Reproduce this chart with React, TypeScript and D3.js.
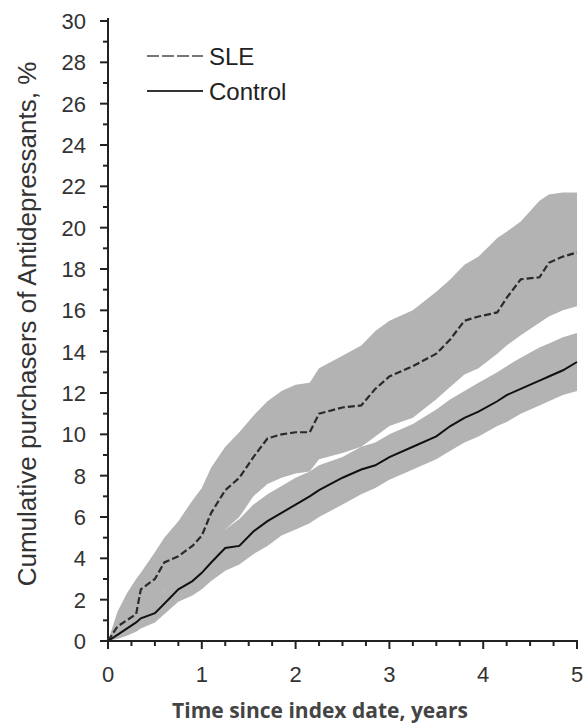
import React, { useEffect, useRef } from 'react';
import * as d3 from 'd3';

// time since index date (years)
const years = [0, 0.1, 0.2, 0.3, 0.35, 0.5, 0.6, 0.75, 0.9, 1.0, 1.1, 1.25, 1.4, 1.55, 1.7, 1.85, 2.0, 2.15, 2.25, 2.5, 2.7, 2.85, 3.0, 3.25, 3.5, 3.65, 3.8, 3.95, 4.15, 4.25, 4.4, 4.6, 4.7, 4.85, 5.0];

const sle = [0, 0.7, 1.0, 1.3, 2.5, 3.0, 3.8, 4.1, 4.6, 5.1, 6.2, 7.3, 7.9, 8.9, 9.8, 10.0, 10.1, 10.1, 11.0, 11.3, 11.4, 12.2, 12.8, 13.3, 13.9, 14.6, 15.5, 15.7, 15.9, 16.6, 17.5, 17.6, 18.3, 18.6, 18.8];
const sleUpper = [0, 1.4, 2.3, 3.0, 3.3, 4.3, 5.0, 5.8, 6.8, 7.4, 8.4, 9.4, 10.1, 10.9, 11.6, 12.1, 12.4, 12.5, 13.2, 13.8, 14.3, 15.0, 15.5, 16.0, 16.9, 17.5, 18.2, 18.6, 19.5, 19.8, 20.3, 21.3, 21.6, 21.7, 21.7];
const sleLower = [0, 0.2, 0.4, 0.6, 1.4, 1.9, 2.5, 2.8, 3.3, 3.7, 4.5, 5.4, 6.0, 7.0, 7.6, 7.9, 8.1, 8.2, 8.8, 9.1, 9.4, 9.9, 10.4, 10.8, 11.7, 12.3, 12.9, 13.2, 13.9, 14.3, 14.8, 15.4, 15.7, 16.0, 16.2];

const control = [0, 0.3, 0.6, 0.9, 1.1, 1.35, 1.8, 2.5, 2.9, 3.3, 3.8, 4.5, 4.6, 5.3, 5.8, 6.2, 6.6, 7.0, 7.3, 7.9, 8.3, 8.5, 8.9, 9.4, 9.9, 10.4, 10.8, 11.1, 11.6, 11.9, 12.2, 12.6, 12.8, 13.1, 13.5];
const controlUpper = [0, 0.6, 1.0, 1.4, 1.6, 2.0, 2.5, 3.3, 3.8, 4.3, 4.8, 5.4, 5.9, 6.6, 7.1, 7.5, 7.9, 8.2, 8.5, 8.9, 9.4, 9.6, 10.0, 10.5, 11.2, 11.7, 12.1, 12.5, 13.0, 13.3, 13.7, 14.2, 14.4, 14.7, 14.9];
const controlLower = [0, 0.1, 0.25, 0.45, 0.6, 0.9, 1.3, 1.9, 2.2, 2.5, 2.9, 3.4, 3.7, 4.2, 4.6, 5.1, 5.4, 5.7, 6.0, 6.6, 7.1, 7.4, 7.8, 8.3, 8.8, 9.2, 9.6, 9.9, 10.4, 10.6, 11.0, 11.4, 11.6, 11.9, 12.1];

const yTicks = d3.range(0, 31, 2);
const xTicks = [0, 1, 2, 3, 4, 5];

const App = () => {
    const ref = useRef(null);

    useEffect(() => {
        const svg = d3.select(ref.current);
        svg.selectAll('*').remove();

        const x = d3.scaleLinear().domain([0, 5]).range([108, 577]);
        const y = d3.scaleLinear().domain([0, 30]).range([641, 21]);

        const band = (lo, hi) => d3.area()
            .x((d, i) => x(years[i]))
            .y0((d, i) => y(lo[i]))
            .y1((d, i) => y(hi[i]))(years);
        const line = (vals) => d3.line()
            .x((d, i) => x(years[i]))
            .y((d, i) => y(vals[i]))(years);

        const gray = '#b3b3b3';
        svg.append('path').attr('d', band(sleLower, sleUpper)).attr('fill', gray);
        svg.append('path').attr('d', band(controlLower, controlUpper)).attr('fill', gray);

        svg.append('path').attr('d', line(sle))
            .attr('fill', 'none').attr('stroke', '#2a2a2a').attr('stroke-width', 2.2)
            .attr('stroke-dasharray', '7,3');
        svg.append('path').attr('d', line(control))
            .attr('fill', 'none').attr('stroke', '#111').attr('stroke-width', 2);

        const font = 'Liberation Sans, Arial, sans-serif';

        // y axis
        const yAxis = svg.append('g').attr('transform', 'translate(108,0)');
        yAxis.append('line').attr('x1', 0).attr('x2', 0).attr('y1', y(30) - 3).attr('y2', y(0))
            .attr('stroke', '#222').attr('stroke-width', 2);
        d3.range(0, 31, 1).forEach(v => {
            const major = v % 2 === 0;
            yAxis.append('line').attr('x1', major ? -8 : -5).attr('x2', 0)
                .attr('y1', y(v)).attr('y2', y(v))
                .attr('stroke', '#222').attr('stroke-width', 2);
        });
        yTicks.forEach(v => {
            yAxis.append('text').attr('x', -22).attr('y', y(v)).attr('dy', '0.36em')
                .attr('text-anchor', 'end')
                .style('font-family', font)
                .style('font-size', '22px').style('fill', '#333')
                .text(v);
        });

        // x axis
        const xAxis = svg.append('g').attr('transform', 'translate(0,641)');
        xAxis.append('line').attr('x1', x(0) - 8).attr('x2', x(5) + 1).attr('y1', 0).attr('y2', 0)
            .attr('stroke', '#222').attr('stroke-width', 2);
        d3.range(0, 5.01, 0.25).forEach(v => {
            const major = Math.abs(v - Math.round(v)) < 1e-6;
            xAxis.append('line').attr('x1', x(v)).attr('x2', x(v))
                .attr('y1', 0).attr('y2', major ? 8 : 5)
                .attr('stroke', '#222').attr('stroke-width', 2);
        });
        xTicks.forEach(v => {
            xAxis.append('text').attr('x', x(v)).attr('y', 41)
                .attr('text-anchor', 'middle')
                .style('font-family', font)
                .style('font-size', '22px').style('fill', '#333')
                .text(v);
        });

        svg.append('text').attr('x', 320).attr('y', 718).attr('text-anchor', 'middle')
            .style('font-family', 'Open Sans, sans-serif').style('font-size', '21px')
            .style('font-weight', 'bold').style('fill', '#444')
            .text('Time since index date, years');

        svg.append('text').attr('transform', 'translate(36,324) rotate(-90)').attr('text-anchor', 'middle')
            .style('font-family', font).style('font-size', '26px').style('fill', '#333')
            .text('Cumulative purchasers of Antidepressants, %');

        // legend
        const legend = [
            { label: 'SLE', dash: '12,3', y: 56 },
            { label: 'Control', dash: null, y: 91 },
        ];
        legend.forEach(l => {
            svg.append('line').attr('x1', 147).attr('x2', 203).attr('y1', l.y).attr('y2', l.y)
                .attr('stroke', l.dash ? '#777' : '#333').attr('stroke-width', 2)
                .attr('stroke-dasharray', l.dash);
            svg.append('text').attr('x', 209).attr('y', l.y).attr('dy', '0.36em')
                .style('font-family', font).style('font-size', '24px').style('fill', '#222')
                .text(l.label);
        });
    }, []);

    return (
        <svg ref={ref} width={583} height={726}
            style={{ position: 'absolute', left: 0, top: 0, background: '#fff' }} />
    );
};

export default App;
